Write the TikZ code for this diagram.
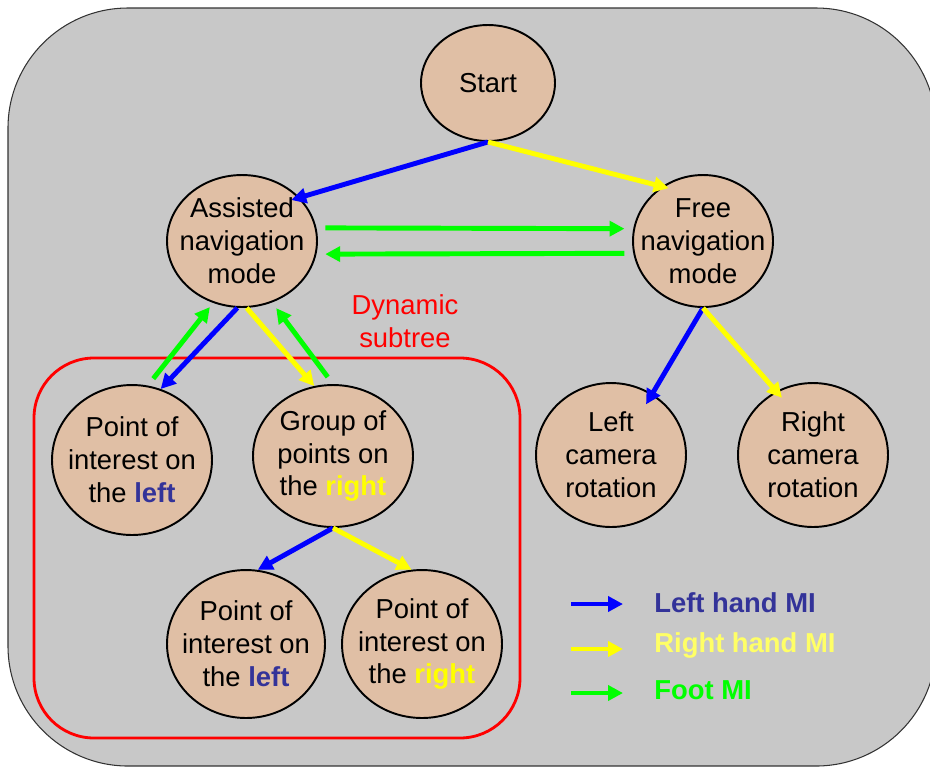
\documentclass[tikz,border=0pt]{standalone}
\usepackage{fontspec}
\setmainfont{Liberation Sans}
\usetikzlibrary{shapes.geometric,arrows.meta}

\definecolor{panelgray}{HTML}{C8C8C8}
\definecolor{statefill}{HTML}{E0BFA5}
\definecolor{lefthand}{HTML}{0000FF}
\definecolor{righthand}{HTML}{FFFF00}
\definecolor{foot}{HTML}{00FF00}
\definecolor{lefttext}{HTML}{333399}
\definecolor{righttext}{HTML}{FFFF66}

\begin{document}
\begin{tikzpicture}[
    x=0.02cm, y=-0.02cm,
    state/.style={ellipse, draw, line width=1.1pt, fill=statefill, inner sep=-15pt, align=center, font=\fontsize{15.6}{18.7}\selectfont},
    mi/.style={-{Triangle[length=8.5pt, width=8.5pt]}, line width=2.8pt},
    lmi/.style={mi, lefthand},
    rmi/.style={mi, righthand},
    fmi/.style={mi, foot},
    legend/.style={anchor=west, inner sep=0pt, font=\fontsize{15.6}{18.7}\selectfont\bfseries}
]
\useasboundingbox (0,0) rectangle (930,769);

% Background panel
\draw[fill=panelgray, draw=black!80, line width=0.6pt, rounded corners=2.4cm] (8,8) rectangle (936,766);

% Dynamic subtree frame
\draw[red, line width=1.6pt, rounded corners=1.2cm] (34,358) rectangle (520,738);
\node[text=red, align=center, font=\fontsize{15.6}{18.7}\selectfont] (dyn) at (405,321) {Dynamic\\subtree};

% States
\node[state, minimum width=2.68cm, minimum height=2.32cm] (start) at (488,83) {Start};

\node[state, minimum width=3cm, minimum height=2.64cm] (assist) at (242,241) {Assisted\\navigation\\mode};
\node[state, minimum width=2.8cm, minimum height=2.64cm] (free) at (703,241) {Free\\navigation\\mode};

\node[state, minimum width=3.2cm, minimum height=3cm] (poil) at (132,460) {Point of\\interest on\\the \textbf{\color{lefttext}left}};
\node[state, minimum width=3.2cm, minimum height=2.84cm] (group) at (333,456) {Group of\\points on\\the \textbf{\color{righthand}right}};
\node[state, minimum width=3.16cm, minimum height=2.96cm] (poibl) at (246,644) {Point of\\interest on\\the \textbf{\color{lefttext}left}};
\node[state, minimum width=3.2cm, minimum height=2.96cm] (poibr) at (422,644) {Point of\\interest on\\the \textbf{\color{righthand}right}};

\node[state, minimum width=3cm, minimum height=2.88cm] (lcam) at (611,455) {Left\\camera\\rotation};
\node[state, minimum width=3cm, minimum height=2.88cm] (rcam) at (813,455) {Right\\camera\\rotation};

% Start -> modes
\draw[lmi, shorten >=-5pt] (start.south) -- (assist.37);
\draw[rmi, shorten >=-4pt] (start.south) -- (free.127);

% Assisted <-> free
\draw[fmi, shorten <=5pt, shorten >=5pt] (assist.10) -- (free.170);
\draw[fmi, shorten <=5pt, shorten >=5pt] (free.190) -- (assist.350);

% Assisted <-> subtree
\draw[lmi] (assist.266) -- (poil.68);
\draw[rmi] (assist.274) -- (group.105);
\draw[fmi, shorten <=5pt, shorten >=3pt] (poil.78) -- (assist.245);
\draw[fmi, shorten <=5pt, shorten >=4pt] (group.90) -- (assist.296);

% Group -> points
\draw[lmi] (group.south) -- (poibl.81);
\draw[rmi] (group.south) -- (poibr.98);

% Free -> cameras
\draw[lmi, shorten >=-7pt] (free.south) -- (lcam.56);
\draw[rmi, shorten >=-5pt] (free.south) -- (rcam.120);

% Legend
\coordinate (k1) at (571,604);
\coordinate (k1e) at (623,604);
\coordinate (k2) at (571,649);
\coordinate (k2e) at (623,649);
\coordinate (k3) at (571,693);
\coordinate (k3e) at (623,693);
\draw[lmi] (k1) -- (k1e);
\draw[rmi] (k2) -- (k2e);
\draw[fmi] (k3) -- (k3e);
\node[legend, text=lefttext] (k1t) at (654,603) {Left hand MI};
\node[legend, text=righttext] (k2t) at (654,645) {Right hand MI};
\node[legend, text=foot] (k3t) at (654,690) {Foot MI};

\end{tikzpicture}
\end{document}
